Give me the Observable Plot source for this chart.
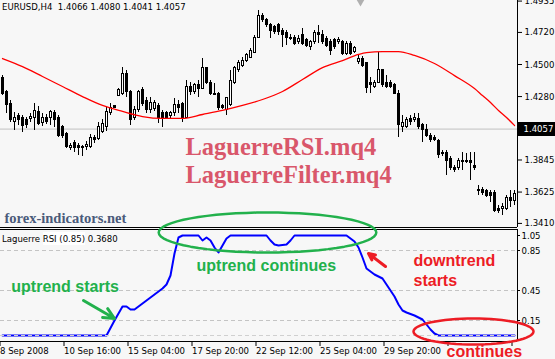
<!DOCTYPE html>
<html>
<head>
<meta charset="utf-8">
<script src="https://cdn.jsdelivr.net/npm/d3@7"></script>
<script src="https://cdn.jsdelivr.net/npm/@observablehq/plot@0.6"></script>
<style>
  html, body { margin: 0; padding: 0; background: #f7f7f7; }
  #chart { position: relative; width: 555px; height: 359px; overflow: hidden; background: #f7f7f7; }
  #chart svg { position: absolute; left: 0; overflow: visible; }
  #main svg { top: 0; }
  #sub svg { top: 229px; }
  .hdr { position: absolute; left: 2px; font: 9.5px "DejaVu Sans Condensed", "Liberation Sans", sans-serif; line-height: 11px; white-space: pre; color: #000; }
  .hdr .box { background: #fff; padding: 1px 0; }
</style>
</head>
<body>
<div id="chart">
  <div id="main"></div>
  <div id="sub"></div>
  <div class="hdr" id="quoteHdr" style="top:1px"></div>
  <div class="hdr" id="rsiHdr" style="top:233px"></div>
</div>
<script>
// EURUSD H4 bars, one entry per bar index
const symbol = "EURUSD,H4";
const quote = ["1.4066", "1.4080", "1.4041", "1.4057"];

const open = [
  1.4404,1.4308,1.4232,1.4109,1.4150,1.4136,1.4116,1.4123,1.4136,1.4171,
  1.4102,1.4136,1.4130,1.4164,1.4130,1.4068,1.4020,1.3924,1.3965,1.3944,
  1.3931,1.3931,1.3937,1.3999,1.3992,1.4040,1.4068,1.4164,1.4212,1.4287,
  1.4301,1.4438,1.4308,1.4136,1.4185,1.4322,1.4253,1.4185,1.4198,1.4212,
  1.4164,1.4164,1.4150,1.4164,1.4219,1.4232,1.4136,1.4349,1.4308,1.4356,
  1.4335,1.4473,1.4376,1.4301,1.4301,1.4212,1.4185,1.4219,1.4376,1.4459,
  1.4493,1.4527,1.4548,1.4582,1.4685,1.4836,1.4802,1.4768,1.4754,1.4768,
  1.4733,1.4713,1.4685,1.4685,1.4651,1.4699,1.4665,1.4617,1.4651,1.4713,
  1.4699,1.4678,1.4651,1.4665,1.4651,1.4651,1.4575,1.4644,1.4589,1.4514,
  1.4541,1.4507,1.4376,1.4349,1.4376,1.4459,1.4370,1.4370,1.4356,1.4301,
  1.4068,1.4068,1.4123,1.4116,1.4123,1.4082,1.4054,1.4013,1.3999,1.3972,
  1.3896,1.3896,1.3855,1.3787,1.3787,1.3841,1.3841,1.3841,1.3807,1.3642,
  1.3642,1.3629,1.3622,1.3622,1.3512,1.3512,1.3512,1.3581,1.3567
];
const high = [
  1.4424,1.4322,1.4253,1.4171,1.4164,1.4150,1.4136,1.4164,1.4232,1.4212,
  1.4164,1.4157,1.4185,1.4185,1.4150,1.4082,1.4034,1.3958,1.3979,1.3958,
  1.3944,1.3972,1.4020,1.4013,1.4102,1.4123,1.4205,1.4232,1.4219,1.4335,
  1.4479,1.4459,1.4322,1.4212,1.4322,1.4342,1.4274,1.4274,1.4253,1.4232,
  1.4185,1.4178,1.4178,1.4267,1.4253,1.4239,1.4390,1.4376,1.4370,1.4390,
  1.4541,1.4479,1.4390,1.4370,1.4308,1.4226,1.4274,1.4459,1.4486,1.4527,
  1.4548,1.4575,1.4610,1.4699,1.4870,1.4850,1.4816,1.4781,1.4768,1.4781,
  1.4747,1.4733,1.4706,1.4699,1.4699,1.4747,1.4678,1.4665,1.4733,1.4768,
  1.4733,1.4692,1.4671,1.4678,1.4685,1.4665,1.4658,1.4658,1.4623,1.4562,
  1.4555,1.4514,1.4411,1.4390,1.4582,1.4459,1.4424,1.4390,1.4370,1.4322,
  1.4150,1.4136,1.4150,1.4164,1.4164,1.4095,1.4088,1.4027,1.4013,1.3985,
  1.3910,1.3910,1.3869,1.3807,1.3855,1.3896,1.3889,1.3896,1.3896,1.3670,
  1.3656,1.3642,1.3635,1.3635,1.3533,1.3546,1.3601,1.3635,1.3635
];
const low = [
  1.4287,1.4164,1.4102,1.4047,1.4082,1.4034,1.4061,1.4102,1.4047,1.4082,
  1.4075,1.4088,1.4082,1.4068,1.3999,1.3992,1.3924,1.3910,1.3896,1.3876,
  1.3869,1.3910,1.3924,1.3958,1.3979,1.4027,1.4040,1.4150,1.4198,1.4280,
  1.4287,1.4274,1.4082,1.4116,1.4171,1.4212,1.4164,1.4164,1.4178,1.4095,
  1.4068,1.4123,1.4130,1.4143,1.4164,1.4102,1.4130,1.4287,1.4294,1.4274,
  1.4328,1.4363,1.4287,1.4287,1.4185,1.4191,1.4150,1.4212,1.4363,1.4445,
  1.4479,1.4514,1.4541,1.4575,1.4678,1.4788,1.4754,1.4678,1.4706,1.4699,
  1.4617,1.4630,1.4665,1.4630,1.4637,1.4630,1.4617,1.4596,1.4637,1.4644,
  1.4637,1.4617,1.4562,1.4603,1.4637,1.4562,1.4562,1.4562,1.4575,1.4500,
  1.4479,1.4301,1.4301,1.4335,1.4370,1.4342,1.4335,1.4335,1.4294,1.3999,
  1.4034,1.4061,1.4082,1.4102,1.4054,1.3965,1.3999,1.3965,1.3972,1.3855,
  1.3869,1.3739,1.3773,1.3759,1.3773,1.3773,1.3821,1.3704,1.3773,1.3601,
  1.3601,1.3588,1.3553,1.3485,1.3478,1.3464,1.3498,1.3519,1.3533
];
const close = [
  1.4301,1.4219,1.4116,1.4136,1.4116,1.4075,1.4082,1.4143,1.4178,1.4095,
  1.4136,1.4109,1.4171,1.4116,1.4013,1.4013,1.3931,1.3944,1.3924,1.3924,
  1.3924,1.3951,1.3999,1.3985,1.4068,1.4095,1.4171,1.4205,1.4205,1.4322,
  1.4438,1.4308,1.4116,1.4185,1.4308,1.4232,1.4185,1.4239,1.4239,1.4130,
  1.4130,1.4136,1.4164,1.4219,1.4205,1.4130,1.4349,1.4308,1.4356,1.4335,
  1.4473,1.4376,1.4301,1.4294,1.4205,1.4205,1.4267,1.4390,1.4473,1.4507,
  1.4527,1.4562,1.4596,1.4685,1.4836,1.4802,1.4768,1.4733,1.4720,1.4720,
  1.4699,1.4685,1.4678,1.4644,1.4678,1.4644,1.4630,1.4651,1.4713,1.4699,
  1.4651,1.4630,1.4596,1.4617,1.4671,1.4575,1.4644,1.4575,1.4610,1.4541,
  1.4493,1.4342,1.4356,1.4376,1.4459,1.4356,1.4349,1.4349,1.4301,1.4082,
  1.4102,1.4116,1.4109,1.4130,1.4068,1.4054,1.4013,1.3979,1.3985,1.3876,
  1.3889,1.3841,1.3787,1.3773,1.3841,1.3828,1.3828,1.3821,1.3793,1.3629,
  1.3622,1.3601,1.3601,1.3498,1.3498,1.3526,1.3581,1.3567,1.3615
];

// LaguerreFilter line (red), read at selected bars
const maBars   = [0, 5, 10, 15, 20, 25, 30, 35, 40, 45, 50, 55, 60, 65, 70, 75, 80, 85, 89, 91, 95, 99, 103, 108, 113, 118, 120, 122, 124, 126, 128];
const maValues = [1.4541,1.4486,1.4418,1.4349,1.4280,1.4219,1.4178,1.4143,1.4130,1.4130,1.4157,1.4185,1.4219,1.4260,1.4315,1.4397,1.4479,1.4527,1.4569,1.4582,1.4589,1.4589,1.4562,1.4507,1.4424,1.4335,1.4287,1.4239,1.4185,1.4136,1.4082];

// Laguerre RSI (gamma 0.85), read at selected bars
const rsiBars   = [0, 26, 28, 30, 31, 32, 33, 35, 37, 40, 41, 42, 43, 44, 45, 49, 50, 51, 52, 53, 54, 55, 56, 57, 66, 67, 68, 69, 71, 72, 73, 86, 88, 89, 90, 91, 93, 95, 96, 97, 98, 99, 100, 101, 103, 105, 106, 107, 108, 109, 128];
const rsiValues = [0, 0, 0.15, 0.29, 0.29, 0.26, 0.26, 0.32, 0.38, 0.47, 0.51, 0.60, 0.82, 0.98, 1.00, 1.00, 0.95, 0.98, 0.95, 0.88, 0.83, 0.90, 0.97, 1.00, 1.00, 0.95, 0.91, 0.90, 0.91, 0.95, 1.00, 1.00, 0.94, 0.88, 0.78, 0.67, 0.61, 0.57, 0.51, 0.45, 0.39, 0.31, 0.25, 0.23, 0.20, 0.16, 0.11, 0.06, 0.02, 0, 0];
const rsiParam = "0.85";
const rsiLast = "0.3680";

// Axis ticks
const priceTicks = [1.4935, 1.4720, 1.4500, 1.4280, 1.3845, 1.3625, 1.3410];
const lastPrice = 1.4057;
const rsiTopTick = [1.05];
const rsiTicks = [0.85, 0.45, 0.15];
const rsiLevels = [0.85, 0.45, 0.15];
const dateBars = [-1, 15, 31, 47, 63, 79, 95, 111, 127];
const dateLabels = ["8 Sep 2008", "10 Sep 16:00", "15 Sep 04:00", "17 Sep 20:00", "22 Sep 12:00", "25 Sep 04:00", "29 Sep 20:00", "", ""];

// Panel extents
const xDomain = [-0.5, 128.75];
const priceDomain = [1.3382, 1.4939];
const rsiDomain = [-0.06, 1.06];
const shiftBar = 89.5;

const candles = open.map((o, i) => ({i, open: o, high: high[i], low: low[i], close: close[i]}));
const ma = maBars.map((b, k) => ({bar: b, v: maValues[k]}));
const rsi = rsiBars.map((b, k) => ({bar: b, v: rsiValues[k]}));

const green = "#22b14c", red = "#ed1c24";
const axisFont = "'DejaVu Sans Condensed', 'Liberation Sans', sans-serif";
const noteFont = "'Liberation Sans', Arial, sans-serif";
const serifFont = "'Liberation Serif', 'DejaVu Serif', serif";
const baseStyle = {background: "transparent", fontFamily: axisFont, fontSize: "9.5px", color: "#000", overflow: "visible"};

document.getElementById("quoteHdr").textContent = symbol + "  " + quote.join(" ");
document.getElementById("rsiHdr").innerHTML = `Laguerre <span class="box">RSI (${rsiParam})</span> ${rsiLast}`;

// Price panel
const main = Plot.plot({
  width: 555, height: 228,
  marginLeft: 0, marginRight: 38, marginTop: 0, marginBottom: 1,
  style: baseStyle,
  x: {domain: xDomain, axis: null},
  y: {domain: priceDomain, axis: null},
  marks: [
    Plot.ruleY([lastPrice], {stroke: "#c0c0c0"}),
    Plot.ruleX(candles, {x: "i", y1: "low", y2: "high", stroke: "#000", shapeRendering: "crispEdges"}),
    Plot.rect(candles, {
      x1: d => d.i - 0.25, x2: d => d.i + 0.25, y1: "open", y2: "close",
      fill: d => d.close > d.open ? "#fff" : "#000", stroke: "#000", shapeRendering: "crispEdges"
    }),
    Plot.line(ma, {x: "bar", y: "v", curve: "monotone-x", stroke: "#ff0000", strokeWidth: 1.3}),
    Plot.text(["LaguerreRSI.mq4\nLaguerreFilter.mq4"], {
      x: 45.75, y: 1.3940, text: d => d, textAnchor: "start", lineAnchor: "middle", lineHeight: 1.16,
      fontFamily: serifFont, fontWeight: "bold", fontSize: 24.5, fill: "#d9576b", dy: 14
    }),
    Plot.text(["forex-indicators.net"], {
      x: 0.5, y: 1.3443, text: d => d, textAnchor: "start",
      fontFamily: serifFont, fontWeight: "bold", fontSize: 14.5, fill: "#4a5a7a"
    }),
    Plot.dot([shiftBar], {x: d => d, frameAnchor: "top", symbol: "triangle", rotate: 180, r: 3.2, fill: "#b0b0b0", dy: 1}),
    Plot.ruleX([xDomain[1]], {stroke: "#000"}),
    Plot.ruleY([priceDomain[0]], {stroke: "#000"}),
    Plot.axisY(priceTicks, {anchor: "right", tickFormat: d3.format(".4f"), tickSize: 4, tickPadding: 3}),
    Plot.ruleY([lastPrice], {x1: xDomain[1], x2: xDomain[1] + 9.6, stroke: "#000", strokeWidth: 14, dx: 0.5}),
    Plot.text([lastPrice], {x: xDomain[1], y: d => d, text: d3.format(".4f"), textAnchor: "start", dx: 6, fill: "#fff"})
  ]
});
document.getElementById("main").append(main);

// Ellipse outlines around annotated regions (data-space centre and radii)
function ellipse(cx, cy, rx, ry) {
  return d3.range(0, 64).map(k => {
    const t = (k / 64) * 2 * Math.PI;
    return {bar: cx + rx * Math.cos(t), v: cy + ry * Math.sin(t)};
  });
}

// Laguerre RSI panel
const sub = Plot.plot({
  width: 555, height: 130,
  marginLeft: 0, marginRight: 38, marginTop: 0, marginBottom: 18,
  style: baseStyle,
  x: {domain: xDomain, axis: null},
  y: {domain: rsiDomain, axis: null},
  marks: [
    Plot.ruleY(rsiLevels, {stroke: "#c4c4c4", strokeDasharray: "4,3"}),
    Plot.line(rsi, {x: "bar", y: "v", stroke: "#0000ff", strokeWidth: 2}),
    Plot.ruleY([0], {stroke: "#d0d0d0", strokeDasharray: "4,3", strokeWidth: 1}),
    Plot.ruleX([xDomain[1]], {stroke: "#000"}),
    Plot.ruleY([rsiDomain[0]], {stroke: "#000"}),
    Plot.ruleY([rsiDomain[1]], {stroke: "#000"}),
    Plot.axisY(rsiTicks, {anchor: "right", tickFormat: d3.format(".2f"), tickSize: 2, tickPadding: 2}),
    // the scale maximum is labelled just inside the panel's top edge
    Plot.axisY(rsiTopTick, {anchor: "right", tickFormat: d3.format(".2f"), tickSize: 2, tickPadding: 2, dy: 5}),
    Plot.axisX(dateBars, {anchor: "bottom", tickFormat: d => dateLabels[dateBars.indexOf(d)], textAnchor: "start", tickSize: 5, tickPadding: 1, dx: 1.5}),
    // annotations
    Plot.line(ellipse(66.25, 1.03, 27.2, 0.20), {x: "bar", y: "v", curve: "linear-closed", stroke: green, strokeWidth: 2.5}),
    Plot.line(ellipse(117.75, 0.04, 15, 0.13), {x: "bar", y: "v", curve: "linear-closed", stroke: red, strokeWidth: 2.5}),
    Plot.arrow([{x1: 20.25, y1: 0.35, x2: 28, y2: 0.17}], {x1: "x1", y1: "y1", x2: "x2", y2: "y2", stroke: green, strokeWidth: 3, headLength: 11, headAngle: 50}),
    Plot.arrow([{x1: 95.75, y1: 0.69, x2: 91.5, y2: 0.82}], {x1: "x1", y1: "y1", x2: "x2", y2: "y2", stroke: red, strokeWidth: 3, headLength: 11, headAngle: 50}),
    Plot.text([
      {bar: 2.2, v: 0.49, label: "uptrend starts", c: green},
      {bar: 48.5, v: 0.70, label: "uptrend continues", c: green},
      {bar: 102.75, v: 0.75, label: "downtrend", c: red},
      {bar: 102.75, v: 0.55, label: "starts", c: red},
      {bar: 111, v: -0.16, label: "continues", c: red}
    ], {x: "bar", y: "v", text: "label", fill: "c", textAnchor: "start", fontFamily: noteFont, fontWeight: "bold", fontSize: 16})
  ]
});
document.getElementById("sub").append(sub);
</script>
</body>
</html>
